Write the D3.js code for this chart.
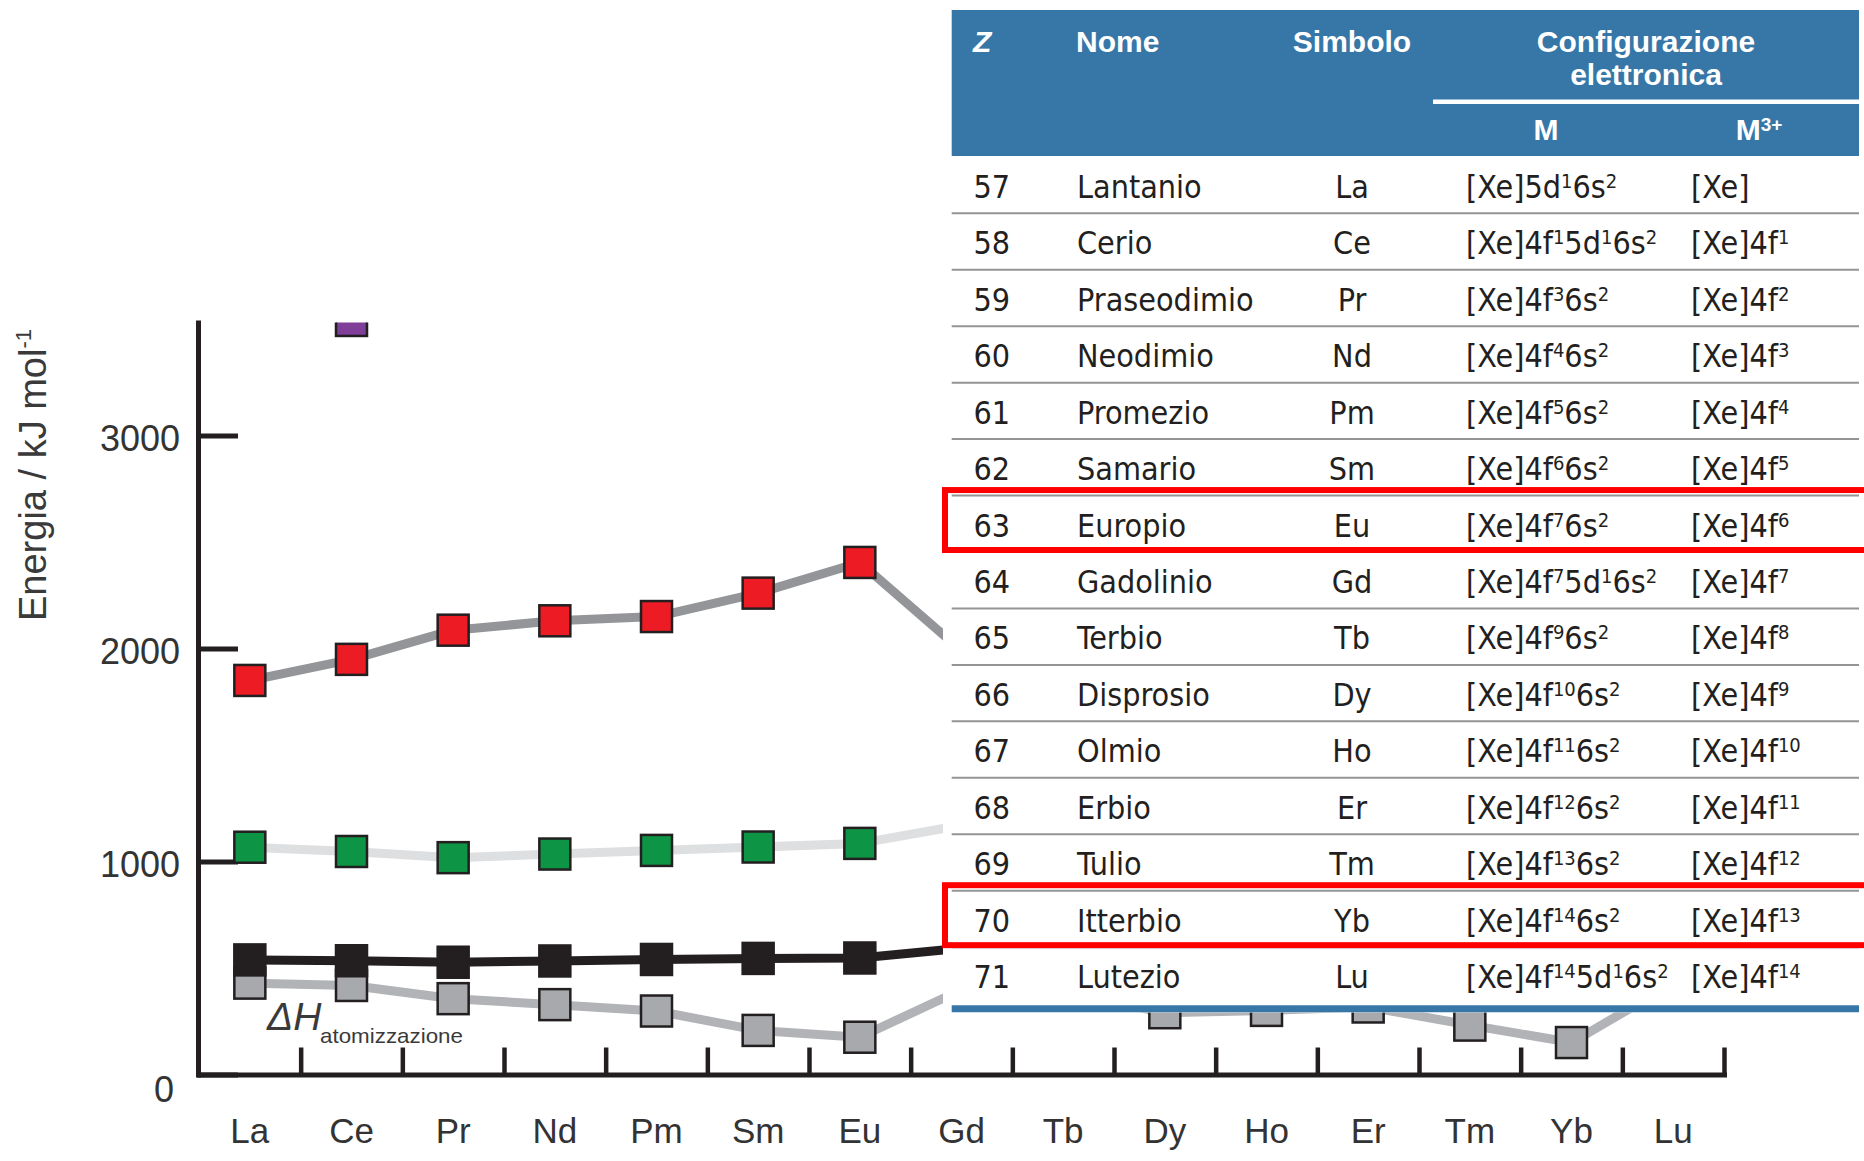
<!DOCTYPE html>
<html><head><meta charset="utf-8">
<script src="https://cdn.jsdelivr.net/npm/d3@7"></script>
<style>body{margin:0;background:#fff} svg{display:block}</style>
</head><body><svg id="c" width="1864" height="1161"></svg>
<script>
// ---------- data ----------
const symbols = ["La","Ce","Pr","Nd","Pm","Sm","Eu","Gd","Tb","Dy","Ho","Er","Tm","Yb","Lu"];
const ionization3 = [1850,1949,2086,2130,2150,2260,2404,1990,2114,2200,2204,2194,2285,2417,2022];
const ionization2 = [1067,1047,1018,1035,1052,1068,1085,1170,1112,1126,1139,1151,1163,1175,1340];
const ionization1 = [538,534,527,533,540,545,547,593,566,573,581,589,597,603,524];
const atomization = [429,418,356,328,298,207,175,398,389,290,301,317,232,150,428];
const topSeries   = [null,3540,null,null,null,null,null,null,null,null,null,null,null,null,null];
const yTicks = [0,1000,2000,3000];

const zNumbers = [57,58,59,60,61,62,63,64,65,66,67,68,69,70,71];
const names = ["Lantanio","Cerio","Praseodimio","Neodimio","Promezio","Samario","Europio","Gadolinio","Terbio","Disprosio","Olmio","Erbio","Tulio","Itterbio","Lutezio"];
const configM = ["[Xe]5d{1}6s{2}","[Xe]4f{1}5d{1}6s{2}","[Xe]4f{3}6s{2}","[Xe]4f{4}6s{2}","[Xe]4f{5}6s{2}","[Xe]4f{6}6s{2}","[Xe]4f{7}6s{2}","[Xe]4f{7}5d{1}6s{2}","[Xe]4f{9}6s{2}","[Xe]4f{10}6s{2}","[Xe]4f{11}6s{2}","[Xe]4f{12}6s{2}","[Xe]4f{13}6s{2}","[Xe]4f{14}6s{2}","[Xe]4f{14}5d{1}6s{2}"];
const configM3 = ["[Xe]","[Xe]4f{1}","[Xe]4f{2}","[Xe]4f{3}","[Xe]4f{4}","[Xe]4f{5}","[Xe]4f{6}","[Xe]4f{7}","[Xe]4f{8}","[Xe]4f{9}","[Xe]4f{10}","[Xe]4f{11}","[Xe]4f{12}","[Xe]4f{13}","[Xe]4f{14}"];
const highlightedZ = [63,70];
const headers = {z:"Z", name:"Nome", sym:"Simbolo", conf1:"Configurazione", conf2:"elettronica", m:"M", m3:"M{3+}"};
const yTitle = "Energia / kJ mol{-1}";

// ---------- helpers ----------
function richText(sel, str, supSize, supDy) {
  const parts = str.split(/(\{[^}]*\})/).filter(s => s.length);
  let raised = false;
  parts.forEach(p => {
    const isSup = p.startsWith("{");
    const t = sel.append("tspan").text(isSup ? p.slice(1, -1) : p);
    if (isSup) { t.attr("font-size", supSize); if (!raised) { t.attr("dy", -supDy); raised = true; } }
    else if (raised) { t.attr("dy", supDy); raised = false; }
  });
}

const svg = d3.select("#c");
const chartFont = "'Liberation Sans', Arial, Helvetica, sans-serif";
const tableFont = "'Liberation Sans Narrow', 'Arial Narrow', 'DejaVu Sans Condensed', sans-serif";
const ink = "#231f20";

// ---------- scales ----------
const x = d3.scaleBand().domain(symbols).range([199, 1724]).paddingInner(0).paddingOuter(0);
const cx = s => x(s) + x.bandwidth() / 2;
const y = d3.scaleLinear().domain([0, 3530]).range([1074.5, 322.6]);
const xIdx = d3.scaleLinear().domain([0, symbols.length]).range([199, 1724]);

svg.append("defs").append("clipPath").attr("id", "plotclip")
  .append("rect").attr("x", 0).attr("y", y(3530)).attr("width", 1864).attr("height", 1161 - y(3530));

// ---------- axes ----------
const yAxis = svg.append("g").attr("transform", `translate(198,0)`)
  .call(d3.axisLeft(y).tickValues(yTicks).tickFormat(d3.format("d")).tickSizeInner(-40).tickSizeOuter(0).tickPadding(18));
yAxis.select(".domain").attr("stroke", ink).attr("stroke-width", 5).attr("stroke-linecap", "square");
yAxis.selectAll(".tick line").attr("stroke", ink).attr("stroke-width", 5);
yAxis.selectAll(".tick text").attr("font-family", chartFont).attr("font-size", 36).attr("fill", "#333").attr("dy", "0.42em");
yAxis.selectAll(".tick text").filter(d => d === 0).attr("x", -24).attr("dy", "0.76em");

const xTickAxis = svg.append("g").attr("transform", `translate(0,${y(0)})`)
  .call(d3.axisBottom(xIdx).tickValues(d3.range(1, symbols.length + 1)).tickSizeInner(-27).tickSizeOuter(0).tickFormat(""));
xTickAxis.select(".domain").attr("stroke", ink).attr("stroke-width", 5).attr("stroke-linecap", "square");
xTickAxis.selectAll(".tick line").attr("stroke", ink).attr("stroke-width", 4.5);

const xLab = svg.append("g").attr("transform", `translate(0,${y(0)})`)
  .call(d3.axisBottom(x).tickSize(0).tickPadding(44));
xLab.select(".domain").remove();
xLab.selectAll(".tick text").attr("font-family", chartFont).attr("font-size", 35).attr("fill", "#333");

// y title
const yt = svg.append("text").attr("transform", "translate(46,475) rotate(-90)")
  .attr("text-anchor", "middle").attr("font-family", chartFont).attr("font-size", 38).attr("fill", "#3a3a3a");
richText(yt, yTitle, 22, 15);

// ---------- series ----------
const seriesDraw = [
  {values: atomization, line: "#b1b3b6", fill: "#a7a9ac", lw: 9},
  {values: ionization1, line: ink, fill: ink, lw: 9},
  {values: ionization2, line: "#dedfe0", fill: "#0d9444", lw: 9},
  {values: ionization3, line: "#939598", fill: "#ed1c24", lw: 9},
  {values: topSeries, line: "#939598", fill: "#7f3f98", lw: 9}
];
const plot = svg.append("g").attr("clip-path", "url(#plotclip)");
const line = d3.line().defined(d => d.v != null).x(d => cx(d.s)).y(d => y(d.v));
const ms = 31;
seriesDraw.forEach(sd => {
  const pts = symbols.map((s, i) => ({s, v: sd.values[i]}));
  plot.append("path").datum(pts).attr("d", line).attr("fill", "none")
    .attr("stroke", sd.line).attr("stroke-width", sd.lw).attr("stroke-linejoin", "round");
  plot.selectAll(null).data(pts.filter(p => p.v != null)).enter().append("rect")
    .attr("x", d => cx(d.s) - ms / 2).attr("y", d => y(d.v) - ms / 2)
    .attr("width", ms).attr("height", ms)
    .attr("fill", sd.fill).attr("stroke", ink).attr("stroke-width", 2.5);
});

// ΔH label
const dh = svg.append("text").attr("x", 267).attr("y", 1030).attr("font-family", chartFont).attr("fill", "#3a3a3a");
dh.append("tspan").attr("font-size", 39).attr("font-style", "italic").text("ΔH");
svg.append("text").attr("x", 320).attr("y", 1043).attr("font-family", chartFont).attr("font-size", 21)
  .attr("fill", "#3a3a3a").attr("textLength", 143).attr("lengthAdjust", "spacingAndGlyphs").text("atomizzazione");

// ---------- table ----------
const T = {left: 951.7, right: 1859, top: 10, headBottom: 156};
const blue = "#3677a8";
const rowC = i => 186.3 + 56.45 * i;
const sepY = i => 213.3 + 56.45 * i;
const tab = svg.append("g");
tab.append("rect").attr("x", 943).attr("y", 0).attr("width", 1864 - 943).attr("height", 1012.5).attr("fill", "#fff");
tab.append("rect").attr("x", T.left).attr("y", T.top).attr("width", T.right - T.left).attr("height", T.headBottom - T.top).attr("fill", blue);
tab.append("line").attr("x1", 1433).attr("x2", T.right).attr("y1", 101.7).attr("y2", 101.7).attr("stroke", "#fff").attr("stroke-width", 4.5);

const hf = {"font-family": chartFont, "font-size": 30, "font-weight": "bold", fill: "#fff"};
function hText(txt, xx, yy, anchor, extra) {
  const t = tab.append("text").attr("x", xx).attr("y", yy).attr("text-anchor", anchor);
  Object.entries(hf).forEach(([k, v]) => t.attr(k, v));
  if (extra) Object.entries(extra).forEach(([k, v]) => t.attr(k, v));
  richText(t, txt, 19, 9);
  return t;
}
hText(headers.z, 973, 51.7, "start", {"font-style": "italic"});
hText(headers.name, 1076, 51.7, "start");
hText(headers.sym, 1352, 51.7, "middle");
hText(headers.conf1, 1646, 51.7, "middle");
hText(headers.conf2, 1646, 85, "middle");
hText(headers.m, 1546, 140, "middle");
hText(headers.m3, 1759, 140, "middle");

// separators
tab.selectAll(null).data(d3.range(zNumbers.length - 1)).enter().append("line")
  .attr("x1", T.left).attr("x2", T.right).attr("y1", i => sepY(i)).attr("y2", i => sepY(i))
  .attr("stroke", "#949494").attr("stroke-width", 2);
tab.append("line").attr("x1", T.left).attr("x2", T.right).attr("y1", 1008.7).attr("y2", 1008.7)
  .attr("stroke", blue).attr("stroke-width", 7);

const rows = tab.selectAll(null).data(zNumbers.map((z, i) => ({z, i}))).enter().append("g")
  .attr("font-family", tableFont).attr("font-size", 32).attr("fill", ink);
rows.append("text").attr("x", 973.5).attr("y", d => rowC(d.i) + 11.5).text(d => d.z);
rows.append("text").attr("x", 1077).attr("y", d => rowC(d.i) + 11.5).text(d => names[d.i]);
rows.append("text").attr("x", 1352).attr("y", d => rowC(d.i) + 11.5).attr("text-anchor", "middle").text(d => symbols[d.i]);
rows.append("text").attr("x", 1466).attr("y", d => rowC(d.i) + 11.5).each(function(d) { richText(d3.select(this), configM[d.i], 20, 10); });
rows.append("text").attr("x", 1691).attr("y", d => rowC(d.i) + 11.5).each(function(d) { richText(d3.select(this), configM3[d.i], 20, 10); });

// highlight boxes
tab.selectAll(null).data(highlightedZ.map(z => zNumbers.indexOf(z))).enter().append("rect")
  .attr("x", 945).attr("y", i => sepY(i - 1) - 5.5)
  .attr("width", 960).attr("height", i => sepY(i) - 2 - (sepY(i - 1) - 5.5))
  .attr("fill", "none").attr("stroke", "#ff0000").attr("stroke-width", 6);
</script></body></html>
